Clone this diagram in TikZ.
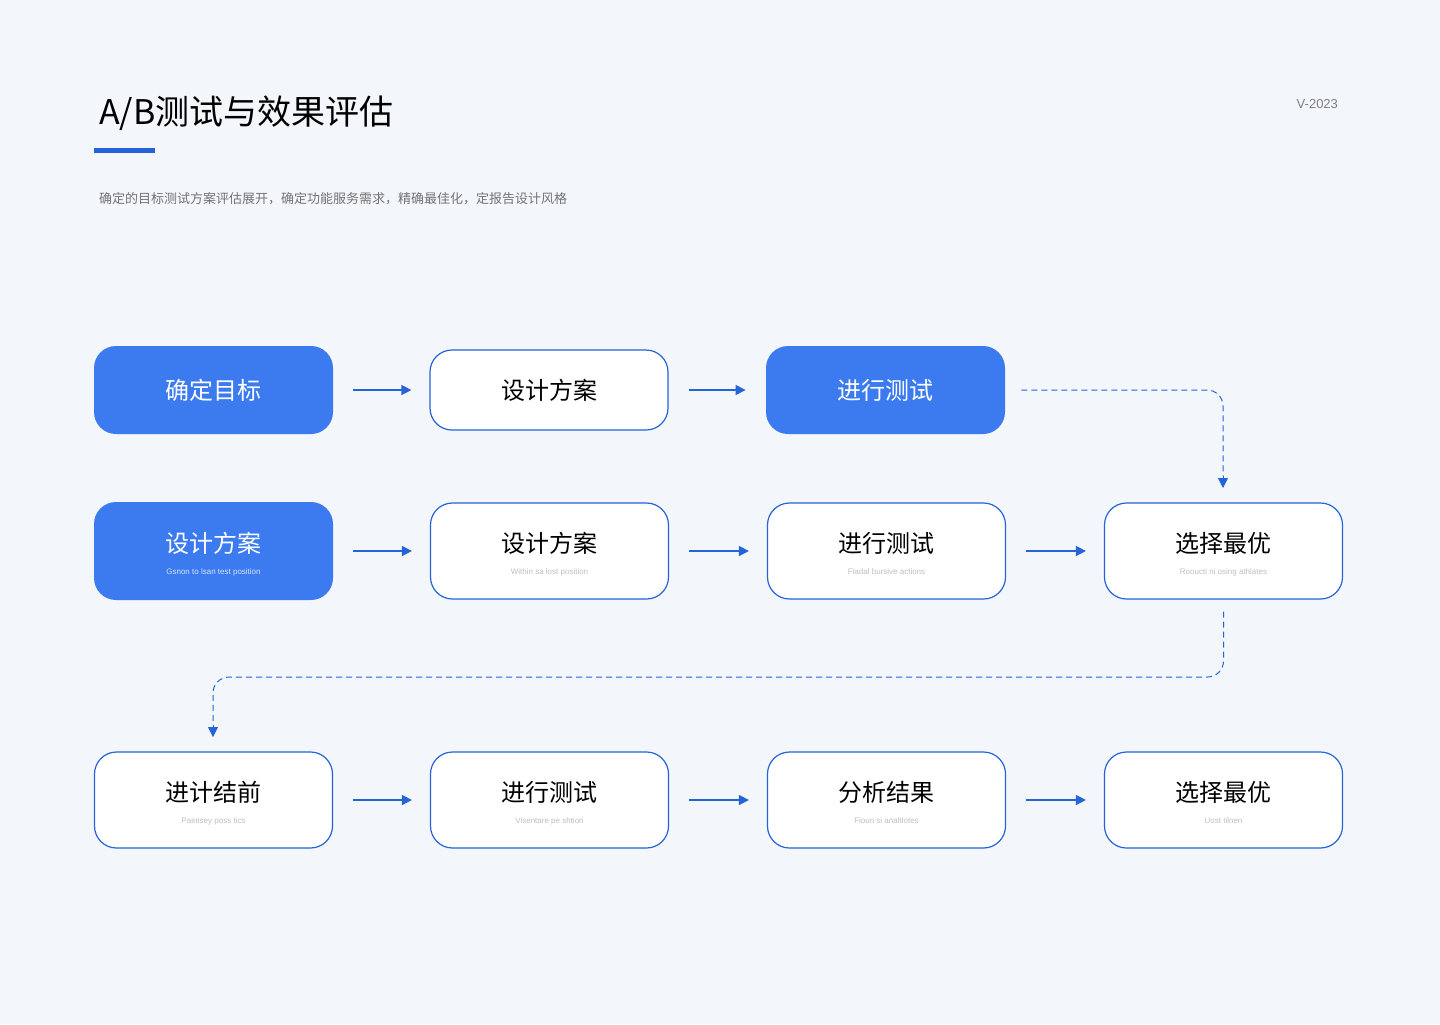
\documentclass[tikz,border=0pt]{standalone}
\usepackage{fontspec}
\setmainfont{Liberation Sans}
\newfontfamily\cjk{Noto Sans CJK SC}
\usetikzlibrary{arrows.meta}
\definecolor{bl}{HTML}{3B7BEF}
\definecolor{bd}{HTML}{2463D8}
\definecolor{bg}{HTML}{F3F6FA}
\begin{document}
\begin{tikzpicture}[x=0.5pt,y=-0.5pt,
 fb/.style={rounded corners=11pt,fill=bl,draw=none,minimum width=119.5pt,inner sep=0pt},
 wb/.style={rounded corners=11pt,fill=white,draw=bd,line width=0.6pt,minimum width=119pt,inner sep=0pt},
 tt/.style={font=\cjk\fontsize{12}{14}\selectfont},
 sub/.style={font=\fontsize{4}{5}\selectfont,text=gray!50},
 ar/.style={bd,line width=0.7pt,-{Triangle[length=5pt,width=5pt]}},
 da/.style={bd,line width=0.5pt,dash pattern=on 3pt off 2pt,rounded corners=8pt}]
\fill[bg] (0,0) rectangle (1440,1024);
\node[anchor=west,font=\cjk\fontsize{17}{20}\selectfont] (title) at (92,113) {A/B测试与效果评估};
\fill[bd] (94,148) rectangle (155,153);
\node[anchor=east,font=\fontsize{6.5}{8}\selectfont,text=gray] (ver) at (1345,104) {V-2023};
\node[anchor=west,font=\cjk\fontsize{6.5}{8}\selectfont,text=gray!90!black] (desc) at (92,199) {确定的目标测试方案评估展开，确定功能服务需求，精确最佳化，定报告设计风格};
% row 1
\node[fb,minimum height=44pt,tt,text=white] (a1) at (213.5,390) {确定目标};
\node[wb,minimum height=40pt,tt] (a2) at (549,390) {设计方案};
\node[fb,minimum height=44pt,tt,text=white] (a3) at (885.5,390) {进行测试};
% row 2
\node[fb,minimum height=49pt] (b1) at (213.5,551) {};
\node[tt,text=white] at (213.5,543) {设计方案};
\node[sub,text=white!80!bl] at (213.5,572) {Gsnon to lsan test position};
\node[wb,minimum height=48pt] (b2) at (549.5,551) {};
\node[tt] at (549.5,543) {设计方案};
\node[sub] at (549.5,572) {Within sa lost position};
\node[wb,minimum height=48pt] (b3) at (886.5,551) {};
\node[tt] at (886.5,543) {进行测试};
\node[sub] at (886.5,572) {Fiadal bursive actions};
\node[wb,minimum height=48pt] (b4) at (1223.5,551) {};
\node[tt] at (1223.5,543) {选择最优};
\node[sub] at (1223.5,572) {Rooucti ni osing athlates};
% row 3
\node[wb,minimum height=48pt] (c1) at (213.5,800) {};
\node[tt] at (213.5,792) {进计结前};
\node[sub] at (213.5,821) {Paintsey poss tics};
\node[wb,minimum height=48pt] (c2) at (549.5,800) {};
\node[tt] at (549.5,792) {进行测试};
\node[sub] at (549.5,821) {Visentare pe shtion};
\node[wb,minimum height=48pt] (c3) at (886.5,800) {};
\node[tt] at (886.5,792) {分析结果};
\node[sub] at (886.5,821) {Fioun si analtlotes};
\node[wb,minimum height=48pt] (c4) at (1223.5,800) {};
\node[tt] at (1223.5,792) {选择最优};
\node[sub] at (1223.5,821) {Uost tilnen};
% arrows
\draw[ar] ([xshift=10pt]a1.east) -- ([xshift=-9pt]a2.west);
\draw[ar] ([xshift=10pt]a2.east) -- ([xshift=-10pt]a3.west);
\foreach \p/\q in {b1/b2,b2/b3,b3/b4,c1/c2,c2/c3,c3/c4}
 \draw[ar] ([xshift=10pt]\p.east) -- ([xshift=-9pt]\q.west);
\coordinate (d1) at (1223,488);
\draw[da] ([xshift=8pt]a3.east) -| ([yshift=6pt]d1);
\draw[bd,-{Triangle[length=5pt,width=5pt]}] ([yshift=6pt]d1) -- (d1);
\coordinate (d2) at (213,737);
\draw[da] ([yshift=-6pt]b4.south) |- (213,677) -- ([yshift=6pt]d2);
\draw[bd,-{Triangle[length=5pt,width=5pt]}] ([yshift=6pt]d2) -- (d2);
\end{tikzpicture}
\end{document}
